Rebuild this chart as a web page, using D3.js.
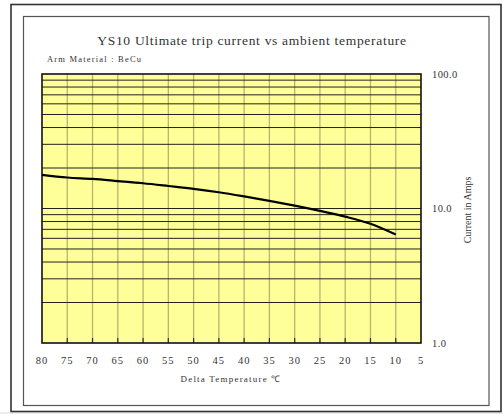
<!DOCTYPE html>
<html><head><meta charset="utf-8">
<script src="https://cdn.jsdelivr.net/npm/d3@7"></script>
<style>
html,body{margin:0;padding:0;background:#ffffff;}
svg{display:block;}
text{font-family:"Liberation Serif","Times New Roman",serif;fill:#333;}
</style></head>
<body>
<script>
// Data
const temps = [80, 75, 70, 65, 60, 55, 50, 45, 40, 35, 30, 25, 20, 15, 10];
const current = [17.8, 17.0, 16.6, 16.0, 15.4, 14.7, 14.0, 13.2, 12.3, 11.4, 10.5, 9.6, 8.7, 7.7, 6.4];
const xTicks = [80, 75, 70, 65, 60, 55, 50, 45, 40, 35, 30, 25, 20, 15, 10, 5];
const yTickLabels = [1, 10, 100];
const yGridValues = [2,3,4,5,6,7,8,9,10,20,30,40,50,60,70,80,90];
const title = "YS10 Ultimate trip current vs ambient temperature";
const subtitle = "Arm Material : BeCu";
const xTitle = "Delta Temperature \u2103";
const yTitle = "Current in Amps";

const W = 503, H = 414;
const svg = d3.select("body").append("svg").attr("width", W).attr("height", H);

// page background & frames
svg.append("rect").attr("x",0).attr("y",0).attr("width",W).attr("height",H).attr("fill","#ffffff");
svg.append("rect").attr("x",0).attr("y",412).attr("width",W).attr("height",2).attr("fill","#ececec");
svg.append("rect").attr("x",11).attr("y",4.5).attr("width",490).attr("height",407)
  .attr("fill","#ffffff").attr("stroke","#333").attr("stroke-width",1.6);
svg.append("rect").attr("x",23.5).attr("y",16.5).attr("width",465.5).attr("height",389)
  .attr("fill","#ffffff").attr("stroke","#555").attr("stroke-width",1.2);

const L = 42, R = 421, T = 74, B = 343;
const x = d3.scaleLinear().domain([80, 5]).range([L, R]);
const y = d3.scaleLog().domain([1, 100]).range([B, T]);

// plot background
svg.append("rect").attr("x",L).attr("y",T).attr("width",R-L).attr("height",B-T).attr("fill","#ffff99");

// vertical grid
svg.append("g").selectAll("line").data(xTicks.slice(1, -1)).join("line")
  .attr("x1", d=>x(d)).attr("x2", d=>x(d)).attr("y1", T).attr("y2", B)
  .attr("stroke","#b9b46e").attr("stroke-width",1.3);

// horizontal grid
svg.append("g").selectAll("line").data(yGridValues).join("line")
  .attr("x1", L).attr("x2", R).attr("y1", d=>y(d)).attr("y2", d=>y(d))
  .attr("stroke","#222").attr("stroke-width",1);

// x tick marks (inside, bottom)
svg.append("g").selectAll("line").data(xTicks.slice(1, -1)).join("line")
  .attr("x1", d=>x(d)).attr("x2", d=>x(d)).attr("y1", B-5).attr("y2", B)
  .attr("stroke","#333").attr("stroke-width",1.2);

// border
svg.append("rect").attr("x",L).attr("y",T).attr("width",R-L).attr("height",B-T)
  .attr("fill","none").attr("stroke","#111").attr("stroke-width",1.6);

// curve
const line = d3.line().x((d,i)=>x(temps[i])).y(d=>y(d)).curve(d3.curveMonotoneX);
svg.append("path").datum(current).attr("d", line)
  .attr("fill","none").attr("stroke","#000").attr("stroke-width",2.2);

// x tick labels
svg.append("g").selectAll("text").data(xTicks).join("text")
  .attr("x", d=>x(d)).attr("y", 364).attr("text-anchor","middle")
  .style("font-size","10.5px").style("letter-spacing","1px").text(d=>d);

// y tick labels (right)
svg.append("g").selectAll("text").data(yTickLabels).join("text")
  .attr("x", 432).attr("y", d=>y(d)+3.5)
  .style("font-size","10.5px").style("letter-spacing","0.4px").text(d=>d.toFixed(1));

// titles
svg.append("text").attr("x",252).attr("y",45).attr("text-anchor","middle")
  .style("font-size","13.5px").style("letter-spacing","0.7px").text(title);
svg.append("text").attr("x",47).attr("y",62)
  .style("font-size","8.5px").style("letter-spacing","1.2px").text(subtitle);
svg.append("text").attr("x",231).attr("y",382).attr("text-anchor","middle")
  .style("font-size","9px").style("letter-spacing","1.2px").text(xTitle);
svg.append("text").attr("transform","translate(471,210) rotate(-90)").attr("text-anchor","middle")
  .style("font-size","10px").text(yTitle);
</script>
</body></html>
